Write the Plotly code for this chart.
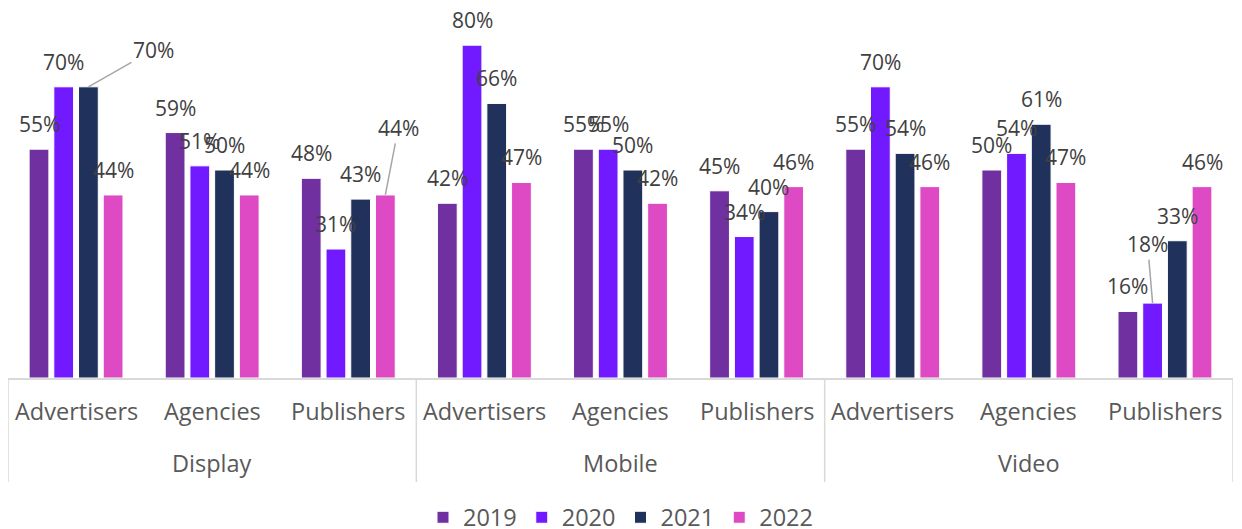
import plotly.graph_objects as go

groups = ["Display", "Mobile", "Video"]
segments = ["Advertisers", "Agencies", "Publishers"]
years = ["2019", "2020", "2021", "2022"]

v2019 = [55, 59, 48, 42, 55, 45, 55, 50, 16]
v2020 = [70, 51, 31, 80, 55, 34, 70, 54, 18]
v2021 = [70, 50, 43, 66, 50, 40, 54, 61, 33]
v2022 = [44, 44, 44, 47, 42, 46, 46, 47, 46]
series = [v2019, v2020, v2021, v2022]

colors = ["#7030A0", "#711AFF", "#20325C", "#DD4AC4"]

# label placement (pixel offsets) for labels with leader lines: (category index, series index) -> (ax, ay)
leaders = {(0, 2): (65, -37), (2, 3): (13, -67), (8, 1): (-5, -59)}

xg = [g for g in groups for _ in segments]
xs = [s for _ in groups for s in segments]

W, H = 1242, 540
ML, MR, MT, MB = 0, 17, 0, 170
PH = H - MT - MB
PX_PER_PCT = 4.16
BARGAP = 0.274
GROUPGAP = 0.2
AXIS_GREY = "#D9D9D9"

fig = go.Figure()
for name, vals, col in zip(years, series, colors):
    fig.add_trace(go.Bar(
        x=[xg, xs], y=vals, name=name,
        marker=dict(color=col, line=dict(color="white", width=1)),
        hoverinfo="skip",
    ))

slot = (1 - BARGAP) / len(series)
annotations = []
for j, vals in enumerate(series):
    for i, v in enumerate(vals):
        xpos = i + (j - (len(series) - 1) / 2) * slot
        a = dict(x=xpos, y=v, xref="x", yref="y", text=f"{v}%",
                 font=dict(family="Open Sans", size=21, color="#404040"))
        if (i, j) in leaders:
            ax, ay = leaders[(i, j)]
            a.update(showarrow=True, ax=ax, ay=ay, arrowhead=0, arrowwidth=1.5,
                     arrowcolor="#A6A6A6", standoff=0)
        else:
            a.update(showarrow=False, yanchor="middle", yshift=25)
        annotations.append(a)

# category axis labels (two levels)
n_seg = len(segments)
for i, s in enumerate(xs):
    annotations.append(dict(x=i, y=0, xref="x", yref="paper", text=s, showarrow=False,
                            yanchor="middle", yshift=-33,
                            font=dict(family="Open Sans", size=23.5, color="#595959")))
for g_i, g in enumerate(groups):
    annotations.append(dict(x=g_i * n_seg + (n_seg - 1) / 2, y=0, xref="x", yref="paper",
                            text=g, showarrow=False, yanchor="middle", yshift=-85,
                            font=dict(family="Open Sans", size=23.5, color="#595959")))

# group dividers
div_bottom = -104 / PH
shapes = []
for g_i in range(len(groups) + 1):
    xb = g_i * n_seg - 0.5
    shapes.append(dict(type="line", xref="x", yref="paper", x0=xb, x1=xb, y0=0, y1=div_bottom,
                       line=dict(color=AXIS_GREY, width=1.5), layer="below"))

fig.update_layout(
    width=W, height=H,
    margin=dict(l=ML, r=MR, t=MT, b=MB),
    paper_bgcolor="white", plot_bgcolor="white",
    barmode="group", bargap=BARGAP, bargroupgap=GROUPGAP,
    font=dict(family="Open Sans", color="#595959"),
    showlegend=True,
    legend=dict(orientation="h", x=0.5, xanchor="center", y=-139.5 / PH,
                yanchor="middle", font=dict(size=23.5, color="#595959"), itemclick=False),
    annotations=annotations,
    shapes=shapes,
    xaxis=dict(type="multicategory", showline=True, linecolor=AXIS_GREY, linewidth=1.5,
               showticklabels=False, showdividers=False, showgrid=False, ticks="",
               automargin=False, range=[-0.5, len(xs) - 0.5]),
    yaxis=dict(range=[0, PH / PX_PER_PCT], visible=False, showgrid=False, automargin=False),
)

fig.write_html("out.html")
